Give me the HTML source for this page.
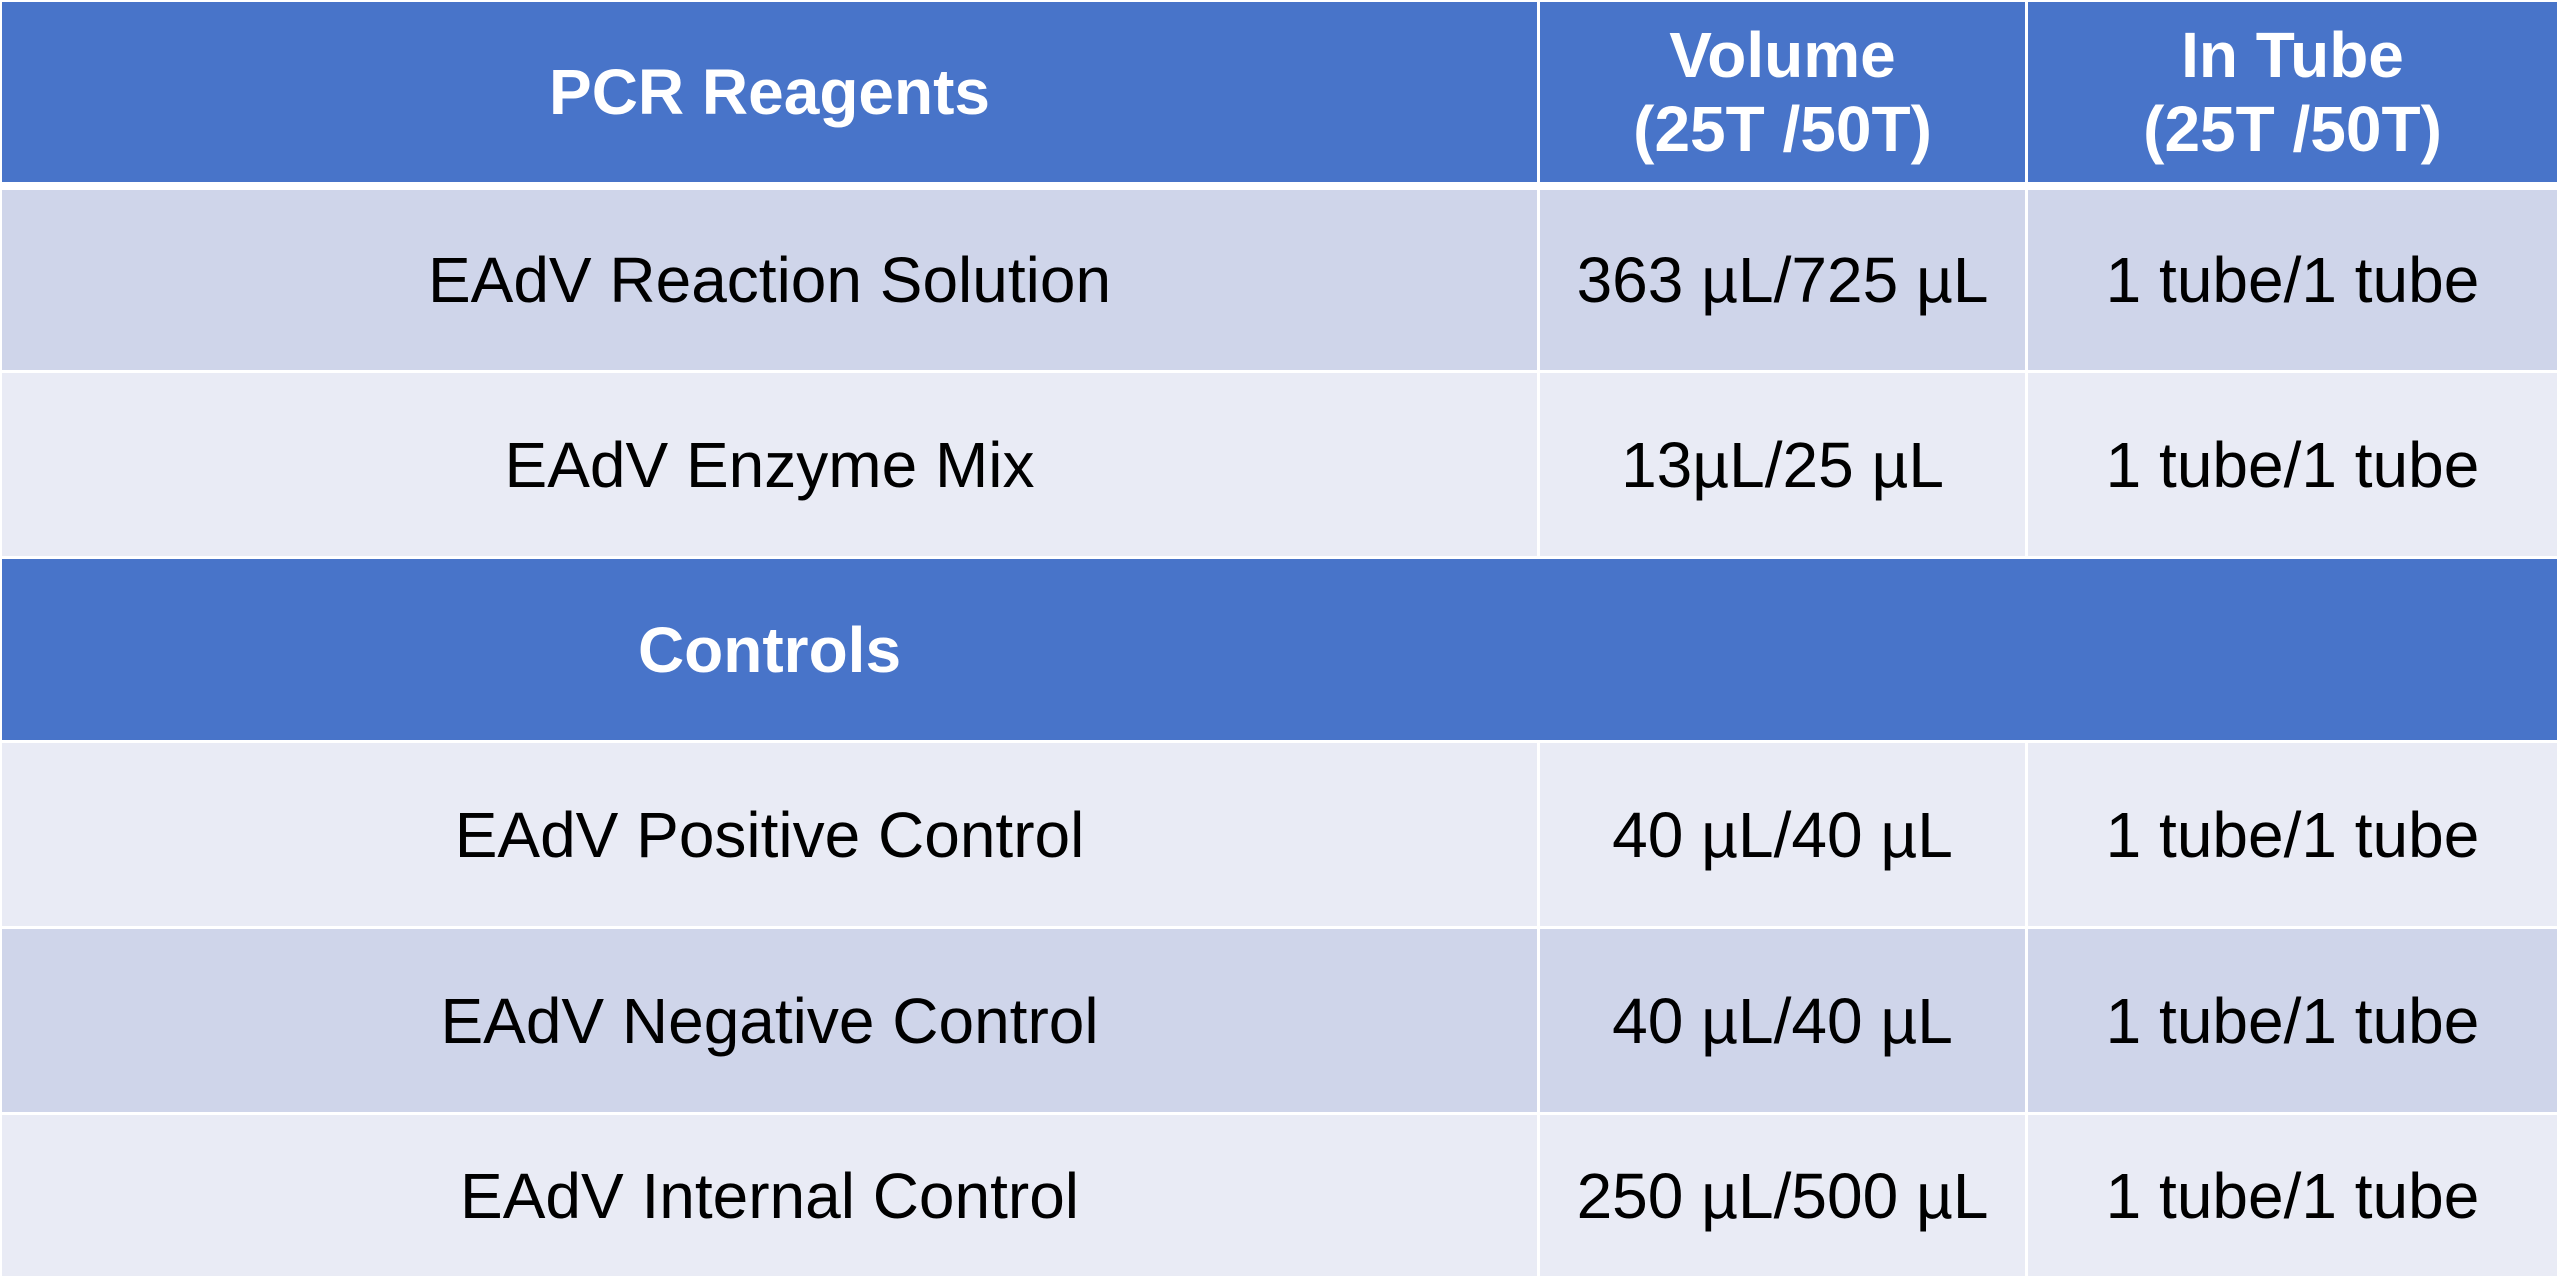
<!DOCTYPE html>
<html><head><meta charset="utf-8"><style>
body{margin:0;width:2560px;height:1276px;background:#fff;overflow:hidden;font-family:"Liberation Sans",Arial,sans-serif}
.c{position:absolute;display:flex;align-items:center;justify-content:center;text-align:center;font-size:64px;color:#000;box-sizing:border-box}
.h{background:#4874c9;color:#fff;font-weight:bold;line-height:74px}
.a{background:#cfd5ea}.b{background:#e9ebf5}
</style></head><body>
<div id="t"></div>
<script>
const colX=[2,1540,2028,2557];
const rowY=[[2,182],[190,370],[373,556],[559,740],[743,926],[929,1112],[1115,1276]];
const rows=[
 ["h",["PCR Reagents","Volume<br>(25T /50T)","In Tube<br>(25T /50T)"]],
 ["a",["EAdV Reaction Solution","363 µL/725 µL","1 tube/1 tube"]],
 ["b",["EAdV Enzyme Mix","13µL/25 µL","1 tube/1 tube"]],
 ["hs",["Controls"]],
 ["b",["EAdV Positive Control","40 µL/40 µL","1 tube/1 tube"]],
 ["a",["EAdV Negative Control","40 µL/40 µL","1 tube/1 tube"]],
 ["b",["EAdV Internal Control","250 µL/500 µL","1 tube/1 tube"]]
];
const t=document.getElementById('t');
rows.forEach((r,i)=>{
 const [y0,y1]=rowY[i];
 if(r[0]==="hs"){
  const bar=document.createElement('div');
  
  
  bar.className='c h';
  bar.style.cssText=`left:${colX[0]}px;top:${y0}px;width:${colX[3]-colX[0]}px;height:${y1-y0}px`;
  t.appendChild(bar);
  const d=document.createElement('div');
  
  
  d.className='c';
  d.style.cssText=`left:${colX[0]}px;top:${y0}px;width:${colX[1]-3-colX[0]}px;height:${y1-y0}px;color:#fff;font-weight:bold`;
  d.innerHTML=r[1][0];
  t.appendChild(d);
  return;
 }
 r[1].forEach((txt,j)=>{
  const d=document.createElement('div');
  
  
  d.className='c '+r[0];
  const x0=colX[j], x1=j<2?colX[j+1]-3:colX[3];
  d.style.cssText=`left:${x0}px;top:${y0}px;width:${x1-x0}px;height:${y1-y0}px`;
  d.innerHTML=txt;
  t.appendChild(d);
 });
});
</script>
</body></html>
